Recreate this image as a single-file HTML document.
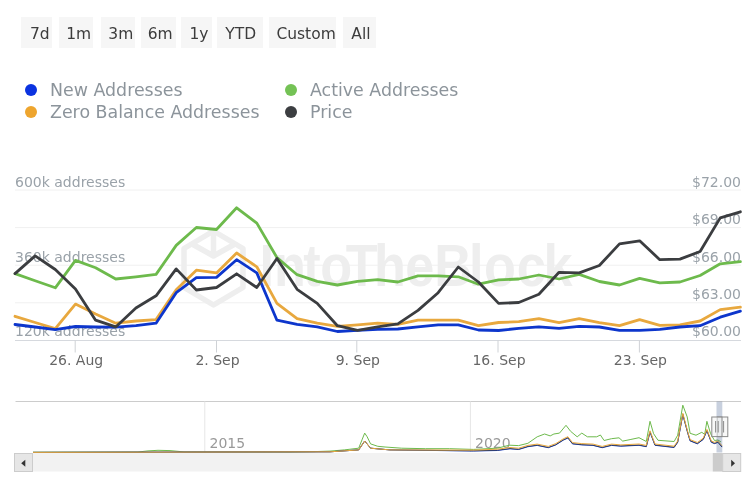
<!DOCTYPE html>
<html><head><meta charset="utf-8">
<style>
html,body{margin:0;padding:0;background:#fff;}
body{width:753px;height:491px;overflow:hidden;position:relative;font-family:"DejaVu Sans","Liberation Sans",sans-serif;}
.btn{position:absolute;top:17px;height:30.5px;background:#f6f6f6;color:#3c3c3c;font-size:15.5px;line-height:30px;text-align:left;box-sizing:border-box;padding-left:9px;padding-top:2px;white-space:nowrap;overflow:hidden;}
.lg{position:absolute;font-size:17.4px;color:#8c949b;white-space:nowrap;line-height:20px;}
.dot{position:absolute;width:12px;height:12px;border-radius:50%;}
svg{position:absolute;left:0;top:0;}
.yl{font-family:"DejaVu Sans","Liberation Sans",sans-serif;font-size:14px;fill:#9aa2a9;}
.xl{font-family:"DejaVu Sans","Liberation Sans",sans-serif;font-size:14px;fill:#666;}
.nl{font-family:"DejaVu Sans","Liberation Sans",sans-serif;font-size:14px;fill:#999;}
</style></head><body>
<div class="btn" style="left:21px;width:31px;padding-left:9px">7d</div>
<div class="btn" style="left:59px;width:34px;padding-left:7.2px">1m</div>
<div class="btn" style="left:101px;width:34px;padding-left:7.3px">3m</div>
<div class="btn" style="left:141px;width:35px;padding-left:6.7px">6m</div>
<div class="btn" style="left:181px;width:31px;padding-left:8.5px">1y</div>
<div class="btn" style="left:217px;width:45.5px;padding-left:8.3px">YTD</div>
<div class="btn" style="left:269px;width:67px;padding-left:7.4px">Custom</div>
<div class="btn" style="left:343px;width:33px;padding-left:8.3px">All</div>
<div class="dot" style="left:25px;top:84px;background:#0b33e0"></div>
<div class="lg" style="left:50px;top:79.5px">New Addresses</div>
<div class="dot" style="left:25px;top:106px;background:#eea52e"></div>
<div class="lg" style="left:50px;top:101.5px">Zero Balance Addresses</div>
<div class="dot" style="left:285px;top:84px;background:#74c255"></div>
<div class="lg" style="left:310px;top:79.5px">Active Addresses</div>
<div class="dot" style="left:285px;top:106px;background:#3c3e41"></div>
<div class="lg" style="left:310px;top:101.5px">Price</div>
<svg width="753" height="491" viewBox="0 0 753 491">
<line x1="15" x2="741" y1="190" y2="190" stroke="#f0f0f0" stroke-width="1"/>
<line x1="15" x2="741" y1="227.6" y2="227.6" stroke="#f0f0f0" stroke-width="1"/>
<line x1="15" x2="741" y1="265.2" y2="265.2" stroke="#f0f0f0" stroke-width="1"/>
<line x1="15" x2="741" y1="302.8" y2="302.8" stroke="#f0f0f0" stroke-width="1"/>
<g opacity="1">
<g fill="none" stroke="#eeeeee" stroke-width="5.5" stroke-linejoin="round">
<polygon points="213.5,231 243,248.5 243,287.5 213.5,305 184,287.5 184,248.5"/>
<polyline points="213.5,233 213.5,256 192,244"/>
<polyline points="213.5,256 235,244"/>
</g>
<text transform="scale(0.87,1)" x="298.3 314.9 348.6 368.2 397.3 430.0 465.7 499.1 539.2 556.3 594.0 624.7" y="286" font-family="Liberation Sans,sans-serif" font-weight="bold" font-size="60" fill="#eeeeee">IntoTheBlock</text>
</g>
<line x1="15" x2="741" y1="340.5" y2="340.5" stroke="#d6d9de" stroke-width="1"/>
<line x1="75.2" x2="75.2" y1="340.5" y2="352.5" stroke="#cfd2d6" stroke-width="1"/>
<line x1="216.5" x2="216.5" y1="340.5" y2="352.5" stroke="#cfd2d6" stroke-width="1"/>
<line x1="356.8" x2="356.8" y1="340.5" y2="352.5" stroke="#cfd2d6" stroke-width="1"/>
<line x1="498" x2="498" y1="340.5" y2="352.5" stroke="#cfd2d6" stroke-width="1"/>
<line x1="639.4" x2="639.4" y1="340.5" y2="352.5" stroke="#cfd2d6" stroke-width="1"/>
<text x="15" y="186.8" class="yl">600k addresses</text>
<text x="15" y="261.8" class="yl">360k addresses</text>
<text x="15" y="335.6" class="yl">120k addresses</text>
<text x="741" y="186.8" class="yl" text-anchor="end">$72.00</text>
<text x="741" y="224.3" class="yl" text-anchor="end">$69.00</text>
<text x="741" y="261.8" class="yl" text-anchor="end">$66.00</text>
<text x="741" y="298.9" class="yl" text-anchor="end">$63.00</text>
<text x="741" y="335.6" class="yl" text-anchor="end">$60.00</text>
<text x="76.2" y="364.5" text-anchor="middle" class="xl">26. Aug</text>
<text x="217.5" y="364.5" text-anchor="middle" class="xl">2. Sep</text>
<text x="357.8" y="364.5" text-anchor="middle" class="xl">9. Sep</text>
<text x="499" y="364.5" text-anchor="middle" class="xl">16. Sep</text>
<text x="640.4" y="364.5" text-anchor="middle" class="xl">23. Sep</text>
<g fill="none" stroke-width="2.8" stroke-linejoin="round" stroke-linecap="round">
<polyline stroke="#6dba4c" points="15.00,273.6 35.15,280.7 55.30,287.8 75.45,260.4 95.60,267.7 115.75,279.0 135.90,276.8 156.05,274.4 176.20,245.4 196.35,227.5 216.50,229.5 236.65,207.8 256.80,223.1 276.95,257.6 297.10,274.7 317.25,281.4 337.40,285.0 357.55,281.4 377.70,279.6 397.85,282.0 418.00,275.9 438.15,275.9 458.30,276.8 478.45,284.2 498.60,279.9 518.75,279.0 538.90,275.0 559.05,279.0 579.20,274.4 599.35,281.5 619.50,285.0 639.65,278.4 659.80,282.8 679.95,282.0 700.10,275.5 720.25,263.8 740.40,261.6"/>
<polyline stroke="#e8a83e" points="15.00,316.3 35.15,322.5 55.30,328.6 75.45,304.1 95.60,314.0 115.75,323.2 135.90,321.0 156.05,319.6 176.20,289.7 196.35,270.2 216.50,272.9 236.65,253.0 256.80,266.8 276.95,303.4 297.10,318.7 317.25,323.2 337.40,326.3 357.55,324.8 377.70,323.2 397.85,324.3 418.00,320.2 438.15,320.2 458.30,320.2 478.45,325.7 498.60,322.5 518.75,321.7 538.90,318.7 559.05,322.6 579.20,318.7 599.35,322.6 619.50,325.7 639.65,319.6 659.80,325.3 679.95,324.8 700.10,321.0 720.25,309.6 740.40,307.2"/>
<polyline stroke="#0d36cc" points="15.00,324.5 35.15,327.0 55.30,329.6 75.45,326.5 95.60,327.0 115.75,327.2 135.90,325.7 156.05,323.2 176.20,292.7 196.35,277.7 216.50,277.4 236.65,259.7 256.80,272.9 276.95,320.2 297.10,324.3 317.25,326.9 337.40,331.5 357.55,330.3 377.70,329.4 397.85,329.0 418.00,326.9 438.15,324.8 458.30,324.8 478.45,330.0 498.60,330.5 518.75,328.4 538.90,326.9 559.05,328.4 579.20,326.3 599.35,327.0 619.50,330.3 639.65,330.3 659.80,329.4 679.95,327.0 700.10,325.7 720.25,317.2 740.40,311.1"/>
<polyline stroke="#3b3d40" points="15.00,273.6 35.15,255.9 55.30,269.5 75.45,288.9 95.60,320.2 115.75,326.9 135.90,308.0 156.05,295.8 176.20,268.9 196.35,290.0 216.50,287.5 236.65,273.8 256.80,287.5 276.95,258.5 297.10,289.3 317.25,303.4 337.40,325.7 357.55,330.3 377.70,326.9 397.85,323.9 418.00,310.4 438.15,292.7 458.30,267.0 478.45,282.0 498.60,303.4 518.75,302.5 538.90,294.2 559.05,272.3 579.20,272.9 599.35,265.5 619.50,243.9 639.65,240.8 659.80,259.7 679.95,259.1 700.10,251.5 720.25,217.9 740.40,211.8"/>
</g>
<!-- navigator -->
<line x1="15.5" x2="741" y1="401.5" y2="401.5" stroke="#cccccc" stroke-width="1"/>
<line x1="204.8" x2="204.8" y1="401.5" y2="452" stroke="#e6e6e6" stroke-width="1"/>
<line x1="470.4" x2="470.4" y1="401.5" y2="452" stroke="#e6e6e6" stroke-width="1"/>
<text x="209.5" y="447.8" class="nl">2015</text>
<text x="475" y="447.8" class="nl">2020</text>
<g fill="none" stroke-width="1" stroke-linejoin="round">
<polyline stroke="#6dba4c" points="33.0,452.2 138.0,452.0 148.0,450.9 158.0,450.3 170.0,450.6 184.0,451.9 290.0,452.0 315.0,451.6 330.0,451.1 344.3,449.9 358.7,448.2 362.3,439.1 364.7,433.1 367.1,436.7 370.6,443.9 377.8,446.3 385.0,447.0 401.7,448.2 425.6,448.7 449.5,448.7 473.4,449.4 497.3,448.2 509.3,445.2 518.6,445.6 527.9,443.3 537.2,436.8 544.6,434.0 550.2,435.9 553.9,434.0 559.5,433.1 566.0,425.3 570.6,431.3 577.2,436.8 581.8,433.1 587.4,436.8 596.7,436.8 600.4,435.0 604.1,440.5 611.5,438.7 619.0,437.8 622.7,441.1 630.1,439.6 639.0,437.7 646.3,441.5 650.0,421.3 653.6,433.7 658.0,440.3 674.1,441.5 677.7,435.2 682.8,405.2 687.2,416.9 690.1,433.3 696.0,435.2 701.8,432.3 704.7,434.4 706.9,421.3 710.6,433.7 714.5,440.5 718.0,440.0 721.0,442.0"/>
<polyline stroke="#0d36cc" points="33.0,452.4 330.0,451.8 358.7,449.9 364.7,441.0 370.6,448.2 389.8,449.9 473.4,451.0 497.3,450.5 510.0,448.8 518.6,449.5 527.9,446.7 537.2,445.4 548.3,447.7 555.8,444.9 563.2,440.2 567.9,438.0 572.5,443.9 581.8,444.9 593.0,445.4 602.2,447.7 611.5,445.4 620.8,446.2 639.0,445.3 646.3,446.7 650.0,432.1 655.0,445.3 674.1,447.5 677.7,442.3 682.8,414.6 687.9,433.6 690.1,440.9 697.4,443.8 703.3,439.4 706.9,430.7 711.3,442.3 714.5,443.6 718.0,442.4 722.0,447.1"/>
<polyline stroke="#3b3d40" points="33.0,452.4 330.0,451.8 358.7,449.9 364.7,441.0 370.6,448.2 389.8,449.9 473.4,450.8 497.3,450.2 510.0,448.5 518.6,449.2 527.9,446.4 537.2,445.1 548.3,447.4 555.8,444.6 563.2,439.9 567.9,437.7 572.5,443.6 581.8,444.6 593.0,445.1 602.2,447.4 611.5,445.1 620.8,445.9 639.0,445.0 646.3,446.4 650.0,431.8 655.0,445.0 674.1,447.2 677.7,442.0 682.8,414.3 687.9,433.3 690.1,440.6 697.4,443.5 703.3,439.1 706.9,430.4 711.3,442.0 714.5,443.3 718.0,442.1 722.0,446.8" stroke-opacity="0.8"/>
<polyline stroke="#e8a83e" points="33.0,452.4 330.0,451.8 358.7,449.9 364.7,441.0 370.6,448.2 389.8,449.9 473.4,450.1 497.3,449.2 510.0,447.5 518.6,448.2 527.9,445.4 537.2,444.1 548.3,446.4 555.8,443.6 563.2,438.9 567.9,436.7 572.5,442.6 581.8,443.6 593.0,444.1 602.2,446.4 611.5,444.1 620.8,444.9 639.0,444.0 646.3,445.4 650.0,430.8 655.0,444.0 674.1,446.2 677.7,441.0 682.8,413.3 687.9,432.3 690.1,439.6 697.4,442.5 703.3,438.1 706.9,429.4 711.3,441.0 714.5,442.3 718.0,441.1 722.0,445.8"/>
</g>
<rect x="716.5" y="401.5" width="5.8" height="51" fill="#23437b" fill-opacity="0.25"/>
<!-- scrollbar -->
<rect x="14.5" y="453" width="726.5" height="18.5" fill="#f2f2f2"/>
<rect x="14.5" y="453.5" width="18" height="18" fill="#e6e6e6" stroke="#cccccc" stroke-width="1"/>
<path d="M21.2,463.2 L25.3,459.8 L25.3,466.8 Z" fill="#333"/>
<rect x="712.8" y="453" width="10" height="18.5" fill="#cccccc"/>
<rect x="722.7" y="453.5" width="18" height="18" fill="#e6e6e6" stroke="#cccccc" stroke-width="1"/>
<path d="M735,463.3 L731.2,459.8 L731.2,466.8 Z" fill="#333"/>
<!-- handles -->
<rect x="717.3" y="417" width="10.5" height="19.6" fill="#f4f4f4" fill-opacity="0.6" stroke="#8a8a8a" stroke-width="1"/>
<line x1="723.6" x2="723.6" y1="421" y2="432.5" stroke="#8a8a8a" stroke-width="1"/>
<rect x="711.8" y="417" width="10.2" height="19.6" fill="#f4f4f4" fill-opacity="0.6" stroke="#8a8a8a" stroke-width="1"/>
<line x1="715.6" x2="715.6" y1="421" y2="432.5" stroke="#8a8a8a" stroke-width="1"/>
<line x1="718.2" x2="718.2" y1="421" y2="432.5" stroke="#8a8a8a" stroke-width="1"/>
</svg>
</body></html>
